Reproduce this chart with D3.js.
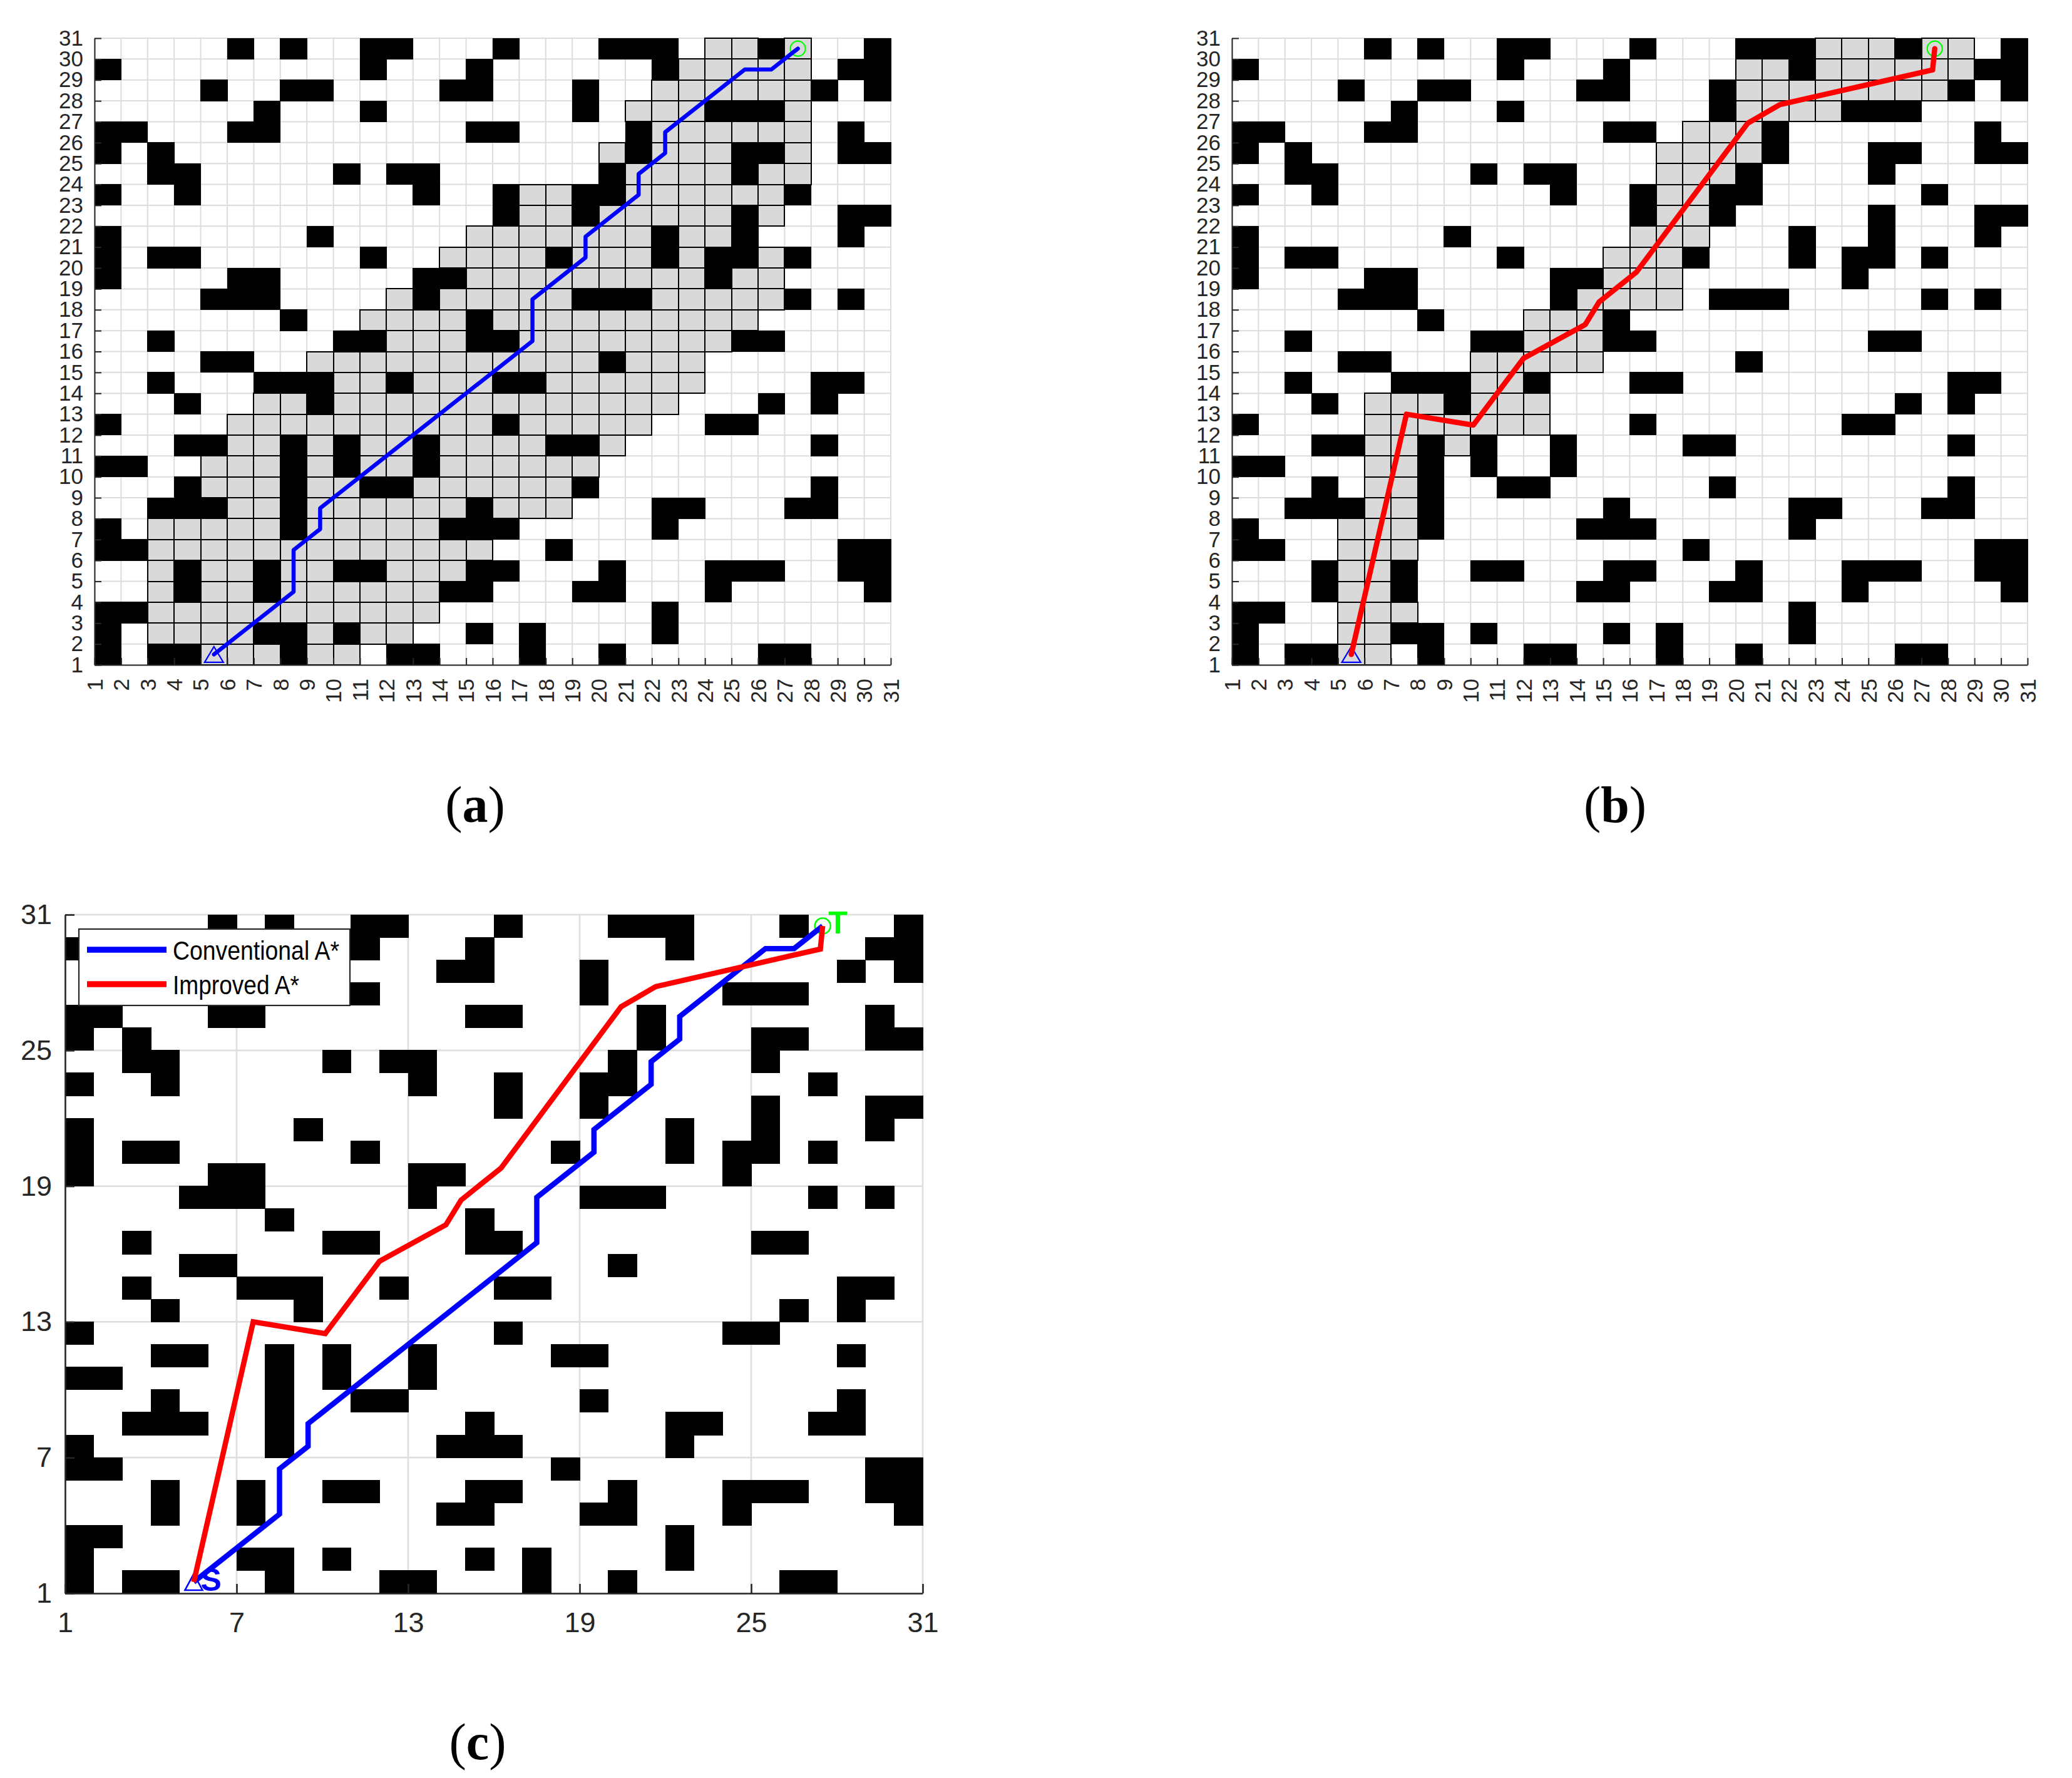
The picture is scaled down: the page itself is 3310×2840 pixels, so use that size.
<!DOCTYPE html>
<html><head><meta charset="utf-8">
<script src="https://cdn.jsdelivr.net/npm/d3@7"></script>
<style>html,body{margin:0;padding:0;background:#fff}svg{display:block}</style>
</head><body>
<svg id="fig" width="3310" height="2840"></svg>
<script>
// ---------------- DATA ----------------
// obstacle cells: index = row r (cell spans y r..r+1), values = columns c (cell spans x c..c+1)
const obstacleRows = [
  [1,3,4,8,12,13,17,20,26,27],
  [1,7,8,10,15,17,22],
  [1,2,22],
  [4,7,14,15,19,20,24,30],
  [4,7,10,11,15,16,20,24,25,26,29,30],
  [1,2,18,29,30],
  [1,8,14,15,16,22],
  [3,4,5,8,15,22,23,27,28],
  [4,8,11,12,19,28],
  [1,2,8,10,13],
  [4,5,8,10,13,18,19,28],
  [1,16,24,25],
  [4,9,26,28],
  [3,7,8,9,12,16,17,28,29],
  [5,6,20],
  [3,10,11,15,16,25,26],
  [8,15],
  [5,6,7,13,19,20,21,27,29],
  [1,6,7,13,14,24],
  [1,3,4,11,18,22,24,25,27],
  [1,9,22,25,29],
  [16,19,25,29,30],
  [1,4,13,16,19,20,27],
  [3,4,10,12,13,20,25],
  [1,3,21,25,26,29,30],
  [1,2,6,7,15,16,21,29],
  [7,11,19,24,25,26],
  [5,8,9,14,15,19,28,30],
  [1,11,15,22,29,30],
  [6,8,11,12,16,20,21,22,26,30]
];
// explored (closed-list) cells of conventional A* (panel a)
const exploredConventional = [
  [5,6,7,9,10],
  [3,4,5,6,9,11,12],
  [3,4,5,6,7,8,9,10,11,12,13],
  [3,5,6,8,9,10,11,12,13],
  [3,5,6,8,9,12,13,14],
  [3,4,5,6,7,8,9,10,11,12,13,14,15],
  [3,4,5,6,7,9,10,11,12,13],
  [6,7,9,10,11,12,13,14,16,17,18],
  [5,6,7,9,10,13,14,15,16,17,18],
  [5,6,7,9,11,12,14,15,16,17,18,19],
  [6,7,9,11,12,14,15,16,17,20],
  [6,7,8,9,10,11,12,13,14,15,17,18,19,20,21],
  [7,8,10,11,12,13,14,15,16,17,18,19,20,21,22],
  [10,11,13,14,15,18,19,20,21,22,23],
  [9,10,11,12,13,14,15,16,17,18,19,21,22,23],
  [12,13,14,17,18,19,20,21,22,23,24],
  [11,12,13,14,16,17,18,19,20,21,22,23,24,25],
  [12,14,15,16,17,18,22,23,24,25,26],
  [15,16,17,18,19,20,21,22,23,25,26],
  [14,15,16,17,19,20,21,23,26],
  [15,16,17,18,19,20,21,23,24],
  [17,18,20,21,22,23,24,26],
  [17,18,21,22,23,24,25,26],
  [21,22,23,24,26,27],
  [20,22,23,24,27],
  [22,23,24,25,26,27],
  [21,22,23,27],
  [22,23,24,25,26,27],
  [23,24,25,26,27],
  [24,25,27]
];
// explored cells of improved A* (panel b)
const exploredImproved = [
  [5,6],
  [5,6],
  [5,6,7],
  [5,6],
  [5,6],
  [5,6,7],
  [5,6,7],
  [6,7],
  [6,7],
  [6,7],
  [6,7,9],
  [6,7,8,9,10,11,12],
  [6,7,8,10,11,12],
  [10,11],
  [10,11,12,13,14],
  [12,13,14],
  [12,13,14],
  [14,15,16,17],
  [15,16,17],
  [15,16,17],
  [16,17,18],
  [17,18],
  [17,18],
  [17,18,19],
  [17,18,19,20],
  [18,19,20],
  [20,21,22,23],
  [20,21,22,23,24,25,26,27],
  [20,21,23,24,25,26,27,28],
  [23,24,25,27,28]
];
const pathConventional = [
  [5.5,1.5],[8.5,4.5],[8.5,6.5],[9.5,7.5],[9.5,8.5],[17.5,16.5],[17.5,18.5],
  [19.5,20.5],[19.5,21.5],[21.5,23.5],[21.5,24.5],[22.5,25.5],[22.5,26.5],
  [25.5,29.5],[26.5,29.5],[27.5,30.5]
];
const pathImproved = [
  [5.5,1.5],[7.58,13.0],[10.1,12.48],[12.0,15.68],[14.32,17.29],[14.85,18.38],
  [16.25,19.8],[20.45,26.93],[21.66,27.82],[27.42,29.48],[27.5,30.5]
];
const startPoint = [5.5,1.5];
const goalPoint = [27.5,30.5];
const ticksAB = [1,2,3,4,5,6,7,8,9,10,11,12,13,14,15,16,17,18,19,20,21,22,23,24,25,26,27,28,29,30,31];
const ticksC = [1,7,13,19,25,31];
const legendLabels = ['Conventional A*','Improved A*'];
const legendColors = ['#0000ff','#ff0000'];
const captions = ['a','b','c'];

// ---------------- DRAWING ----------------
const svg = d3.select('#fig');
svg.append('rect').attr('width',3310).attr('height',2840).attr('fill','#ffffff');
const FONT = "'Liberation Sans', Arial, Helvetica, sans-serif";
const SERIF = "'Liberation Serif', 'Times New Roman', serif";
const AXC = '#262626';
const GREEN = '#00ff00';

function toCells(rows){
  const cells = [];
  rows.forEach((cols,i)=>cols.forEach(c=>cells.push([c,i+1])));
  return cells;
}
function drawCells(g, rows, x, y, fill, stroke, sw){
  g.append('g').attr('shape-rendering','crispEdges')
   .selectAll('rect').data(toCells(rows)).join('rect')
   .attr('x', d=>x(d[0])).attr('y', d=>y(d[1]+1))
   .attr('width', d=>x(d[0]+1)-x(d[0])).attr('height', d=>y(d[1])-y(d[1]+1))
   .attr('fill', fill).attr('stroke', stroke).attr('stroke-width', sw);
}
function drawGrid(g, ticks, x, y, color, w){
  const gg = g.append('g');
  gg.selectAll('line.v').data(ticks).join('line').attr('class','v')
    .attr('x1',d=>x(d)).attr('x2',d=>x(d)).attr('y1',y(1)).attr('y2',y(31))
    .attr('stroke',color).attr('stroke-width',w);
  gg.selectAll('line.h').data(ticks).join('line').attr('class','h')
    .attr('y1',d=>y(d)).attr('y2',d=>y(d)).attr('x1',x(1)).attr('x2',x(31))
    .attr('stroke',color).attr('stroke-width',w);
}
function styleAxis(a, fs, sw){
  a.attr('font-family',FONT).attr('font-size',fs).attr('color',AXC);
  a.selectAll('path.domain').attr('stroke-width',sw);
  a.selectAll('.tick line').attr('stroke-width',sw);
}
function drawTriangle(g, x, y, p, w, h, sw){
  const cx = x(p[0]), cy = y(p[1]);
  g.append('path')
   .attr('d', `M${cx},${cy-h/2}L${cx-w/2},${cy+h/2}L${cx+w/2},${cy+h/2}Z`)
   .attr('fill','none').attr('stroke','#0000ff').attr('stroke-width',sw);
}
function drawCircle(g, x, y, p, r, sw){
  g.append('circle').attr('cx',x(p[0])).attr('cy',y(p[1])).attr('r',r)
   .attr('fill','none').attr('stroke',GREEN).attr('stroke-width',sw);
}

function panelAB(xr, explored, path, color, lw){
  const x = d3.scaleLinear().domain([1,31]).range(xr);
  const y = d3.scaleLinear().domain([1,31]).range([1062,61]);
  const g = svg.append('g');
  drawGrid(g, ticksAB, x, y, '#dcdcdc', 2);
  drawCells(g, obstacleRows, x, y, '#000000', '#000000', 1);
  drawCells(g, explored, x, y, '#d9d9d9', '#000000', 2);
  const ay = g.append('g').attr('transform',`translate(${x(1)},0)`)
    .call(d3.axisLeft(y).tickValues(ticksAB).tickSizeInner(-11).tickSizeOuter(0).tickPadding(18).tickFormat(d3.format('d')));
  styleAxis(ay, 35, 2);
  const ax = g.append('g').attr('transform',`translate(0,${y(1)})`)
    .call(d3.axisBottom(x).tickValues(ticksAB).tickSizeInner(-11).tickSizeOuter(0).tickFormat(d3.format('d')));
  styleAxis(ax, 35, 2);
  ax.selectAll('.tick text').attr('transform','rotate(-90)').attr('text-anchor','end')
    .attr('x',-22).attr('y',0).attr('dy','0.35em');
  drawTriangle(g, x, y, startPoint, 30, 25, 2.2);
  drawCircle(g, x, y, goalPoint, 12, 2.2);
  g.append('path').datum(path)
   .attr('d', d3.line().x(d=>x(d[0])).y(d=>y(d[1])))
   .attr('fill','none').attr('stroke',color).attr('stroke-width',lw)
   .attr('stroke-linejoin','round').attr('stroke-linecap','round');
}
panelAB([151,1423], exploredConventional, pathConventional, '#0000ff', 6.5);
panelAB([1968,3239], exploredImproved, pathImproved, '#ff0000', 8.5);

// panel (c)
(function(){
  const x = d3.scaleLinear().domain([1,31]).range([104,1474]);
  const y = d3.scaleLinear().domain([1,31]).range([2545,1461]);
  const g = svg.append('g');
  drawGrid(g, ticksC, x, y, '#dfdfdf', 2.7);
  drawCells(g, obstacleRows, x, y, '#000000', '#000000', 1);
  const ay = g.append('g').attr('transform',`translate(${x(1)},0)`)
    .call(d3.axisLeft(y).tickValues(ticksC).tickSizeInner(-15).tickSizeOuter(0).tickPadding(21).tickFormat(d3.format('d')));
  styleAxis(ay, 45, 2.6);
  const ax = g.append('g').attr('transform',`translate(0,${y(1)})`)
    .call(d3.axisBottom(x).tickValues(ticksC).tickSizeInner(-15).tickSizeOuter(0).tickPadding(30).tickFormat(d3.format('d')));
  styleAxis(ax, 45, 2.6);
  drawTriangle(g, x, y, startPoint, 28, 26, 2.6);
  drawCircle(g, x, y, goalPoint, 12.5, 2.6);
  const line = d3.line().x(d=>x(d[0])).y(d=>y(d[1]));
  [pathConventional, pathImproved].forEach((p,i)=>{
    g.append('path').datum(p).attr('d',line).attr('fill','none')
     .attr('stroke',legendColors[i]).attr('stroke-width',8.5)
     .attr('stroke-linejoin','miter').attr('stroke-linecap','butt');
  });
  g.append('text').attr('x',x(startPoint[0])+11).attr('y',y(startPoint[1])+14)
   .attr('font-family',FONT).attr('font-weight','bold').attr('font-size',50)
   .attr('fill','#0000ff').text('S');
  g.append('text').attr('x',x(goalPoint[0])+9).attr('y',y(goalPoint[1])+12)
   .attr('font-family',FONT).attr('font-weight','bold').attr('font-size',50)
   .attr('fill',GREEN).text('T');
  // legend
  const legendTextWidths = [266, 202];
  const lg = g.append('g');
  lg.append('rect').attr('x',126).attr('y',1484).attr('width',433).attr('height',122)
    .attr('fill','#ffffff').attr('stroke',AXC).attr('stroke-width',2.2);
  legendLabels.forEach((t,i)=>{
    const yy = 1517 + i*55;
    lg.append('line').attr('x1',139).attr('x2',266).attr('y1',yy).attr('y2',yy)
      .attr('stroke',legendColors[i]).attr('stroke-width',9.5);
    lg.append('text').attr('x',276).attr('y',yy+16).attr('font-family',FONT)
      .attr('font-size',42).attr('fill','#000000')
      .attr('textLength',legendTextWidths[i]).attr('lengthAdjust','spacingAndGlyphs').text(t);
  });
})();

// captions
const capPos = [[759,1313],[2580,1313],[763,2810]];
captions.forEach((c,i)=>{
  const t = svg.append('text').attr('x',capPos[i][0]).attr('y',capPos[i][1])
    .attr('text-anchor','middle').attr('font-family',SERIF).attr('font-size',82).attr('fill','#000');
  t.append('tspan').text('(');
  t.append('tspan').attr('font-weight','bold').text(c);
  t.append('tspan').text(')');
});
</script>
</body></html>
